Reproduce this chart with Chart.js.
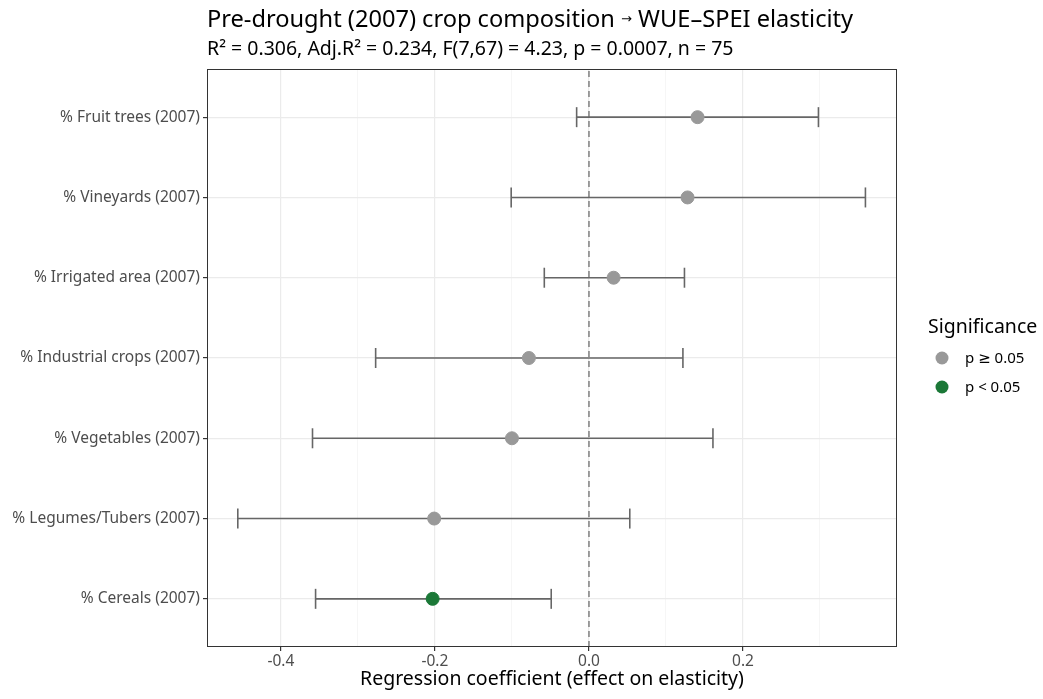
<!DOCTYPE html>
<html>
<head>
<meta charset="utf-8">
<script src="https://cdn.jsdelivr.net/npm/chart.js@4"></script>
<style>
  html, body { margin: 0; padding: 0; background: #fff; }
  #wrap { width: 1043px; height: 699px; position: relative; }
</style>
</head>
<body>
<div id="wrap"><canvas id="forest"></canvas></div>
<script>
// rows from bottom (1) to top (7)
const terms = ['% Cereals (2007)', '% Legumes/Tubers (2007)', '% Vegetables (2007)',
  '% Industrial crops (2007)', '% Irrigated area (2007)', '% Vineyards (2007)', '% Fruit trees (2007)'];
const estimates = [-0.203, -0.201, -0.100, -0.078, 0.032, 0.128, 0.141];
const lower = [-0.355, -0.456, -0.359, -0.277, -0.058, -0.101, -0.016];
const upper = [-0.049, 0.053, 0.161, 0.122, 0.124, 0.359, 0.298];
const significant = [true, false, false, false, false, false, false];
const xTicks = [-0.4, -0.3, -0.2, -0.1, 0.0, 0.1, 0.2, 0.3];

const titleParts = ['Pre-drought (2007) crop composition ', '\u2192', ' WUE\u2013SPEI elasticity'];
const subtitleText = 'R\u00b2 = 0.306, Adj.R\u00b2 = 0.234, F(7,67) = 4.23, p = 0.0007, n = 75';

const FONT = '"Noto Sans", "DejaVu Sans", sans-serif';
const grey = '#999999', green = '#1b7837';
const isMajor = v => Math.round(v * 10) % 2 === 0;

const ciSets = terms.map((t, i) => ({
  type: 'line',
  label: t,
  data: [{ x: lower[i], y: i + 1 }, { x: upper[i], y: i + 1 }],
  borderColor: '#666666',
  borderWidth: 1.6,
  pointStyle: 'line',
  rotation: 90,
  pointRadius: 10,
  pointBorderColor: '#666666',
  pointBorderWidth: 1.6,
  pointHoverRadius: 10,
  order: 2
}));

const zeroLine = {
  type: 'line',
  label: 'zero',
  data: [{ x: 0, y: 0.4 }, { x: 0, y: 7.6 }],
  borderColor: '#808080',
  borderWidth: 1.5,
  borderDash: [6, 4],
  pointRadius: 0,
  order: 3
};

const points = {
  type: 'scatter',
  label: 'estimate',
  data: estimates.map((v, i) => ({ x: v, y: i + 1 })),
  backgroundColor: significant.map(s => s ? green : grey),
  borderColor: significant.map(s => s ? green : grey),
  pointRadius: 6.5,
  pointHoverRadius: 6.5,
  order: 1
};

const decor = {
  id: 'decor',
  afterDraw(chart) {
    const ctx = chart.ctx;
    const a = chart.chartArea;
    ctx.save();
    // panel border
    ctx.strokeStyle = '#333333';
    ctx.lineWidth = 1;
    ctx.strokeRect(a.left + 0.5, a.top + 0.5, a.right - a.left - 1, a.bottom - a.top - 1);
    // title, with the small arrow glyph
    ctx.fillStyle = '#000';
    ctx.textAlign = 'left';
    ctx.textBaseline = 'alphabetic';
    let x = 207;
    const sizes = [23.6, 13, 23.6];
    titleParts.forEach((p, k) => {
      ctx.font = sizes[k] + 'px ' + FONT;
      ctx.fillText(p, x, k === 1 ? 23 : 27);
      x += ctx.measureText(p).width;
    });
    ctx.font = '19.5px ' + FONT;
    ctx.fillText(subtitleText, 207, 55);
    // legend
    ctx.font = '19.5px ' + FONT;
    ctx.fillText('Significance', 928, 333);
    const items = [[grey, 'p \u2265 0.05', 358], [green, 'p < 0.05', 387]];
    ctx.font = '15px ' + FONT;
    ctx.textBaseline = 'middle';
    items.forEach(([c, lab, y]) => {
      ctx.fillStyle = c;
      ctx.beginPath();
      ctx.arc(942, y, 6.5, 0, Math.PI * 2);
      ctx.fill();
      ctx.fillStyle = '#000';
      ctx.fillText(lab, 965, y + 1);
    });
    ctx.restore();
  }
};

new Chart(document.getElementById('forest').getContext('2d'), {
  data: { datasets: [zeroLine, ...ciSets, points] },
  options: {
    responsive: true,
    maintainAspectRatio: false,
    animation: false,
    layout: { padding: { left: 0, right: 146, top: 69, bottom: 0 } },
    plugins: {
      legend: { display: false },
      tooltip: { enabled: false },
      title: { display: false }
    },
    scales: {
      x: {
        type: 'linear',
        min: -0.496,
        max: 0.400,
        afterBuildTicks: s => { s.ticks = xTicks.map(v => ({ value: v })); },
        afterFit: s => { s.height = 52; },
        ticks: {
          autoSkip: false,
          maxRotation: 0,
          color: '#4d4d4d',
          font: { family: FONT, size: 15.5 },
          padding: 1,
          callback: v => isMajor(v) ? v.toFixed(1) : ''
        },
        grid: {
          color: c => isMajor(c.tick.value) ? '#ebebeb' : '#f4f4f4',
          lineWidth: c => isMajor(c.tick.value) ? 1.2 : 0.8,
          tickLength: 4,
          tickColor: c => isMajor(c.tick.value) ? '#333333' : 'rgba(0,0,0,0)'
        },
        border: { display: false },
        title: {
          display: true,
          text: 'Regression coefficient (effect on elasticity)',
          color: '#000',
          font: { family: FONT, size: 19.5 },
          padding: { top: 0, bottom: 8 }
        }
      },
      y: {
        type: 'linear',
        min: 0.4,
        max: 7.6,
        afterBuildTicks: s => { s.ticks = terms.map((t, i) => ({ value: i + 1 })); },
        afterFit: s => { s.width = 207; },
        ticks: {
          autoSkip: false,
          color: '#4d4d4d',
          font: { family: FONT, size: 15.5 },
          padding: 3,
          callback: v => terms[Math.round(v) - 1]
        },
        grid: {
          color: '#ebebeb',
          lineWidth: 1.2,
          tickLength: 4,
          tickColor: '#333333'
        },
        border: { display: false }
      }
    }
  },
  plugins: [decor]
});
</script>
</body>
</html>
